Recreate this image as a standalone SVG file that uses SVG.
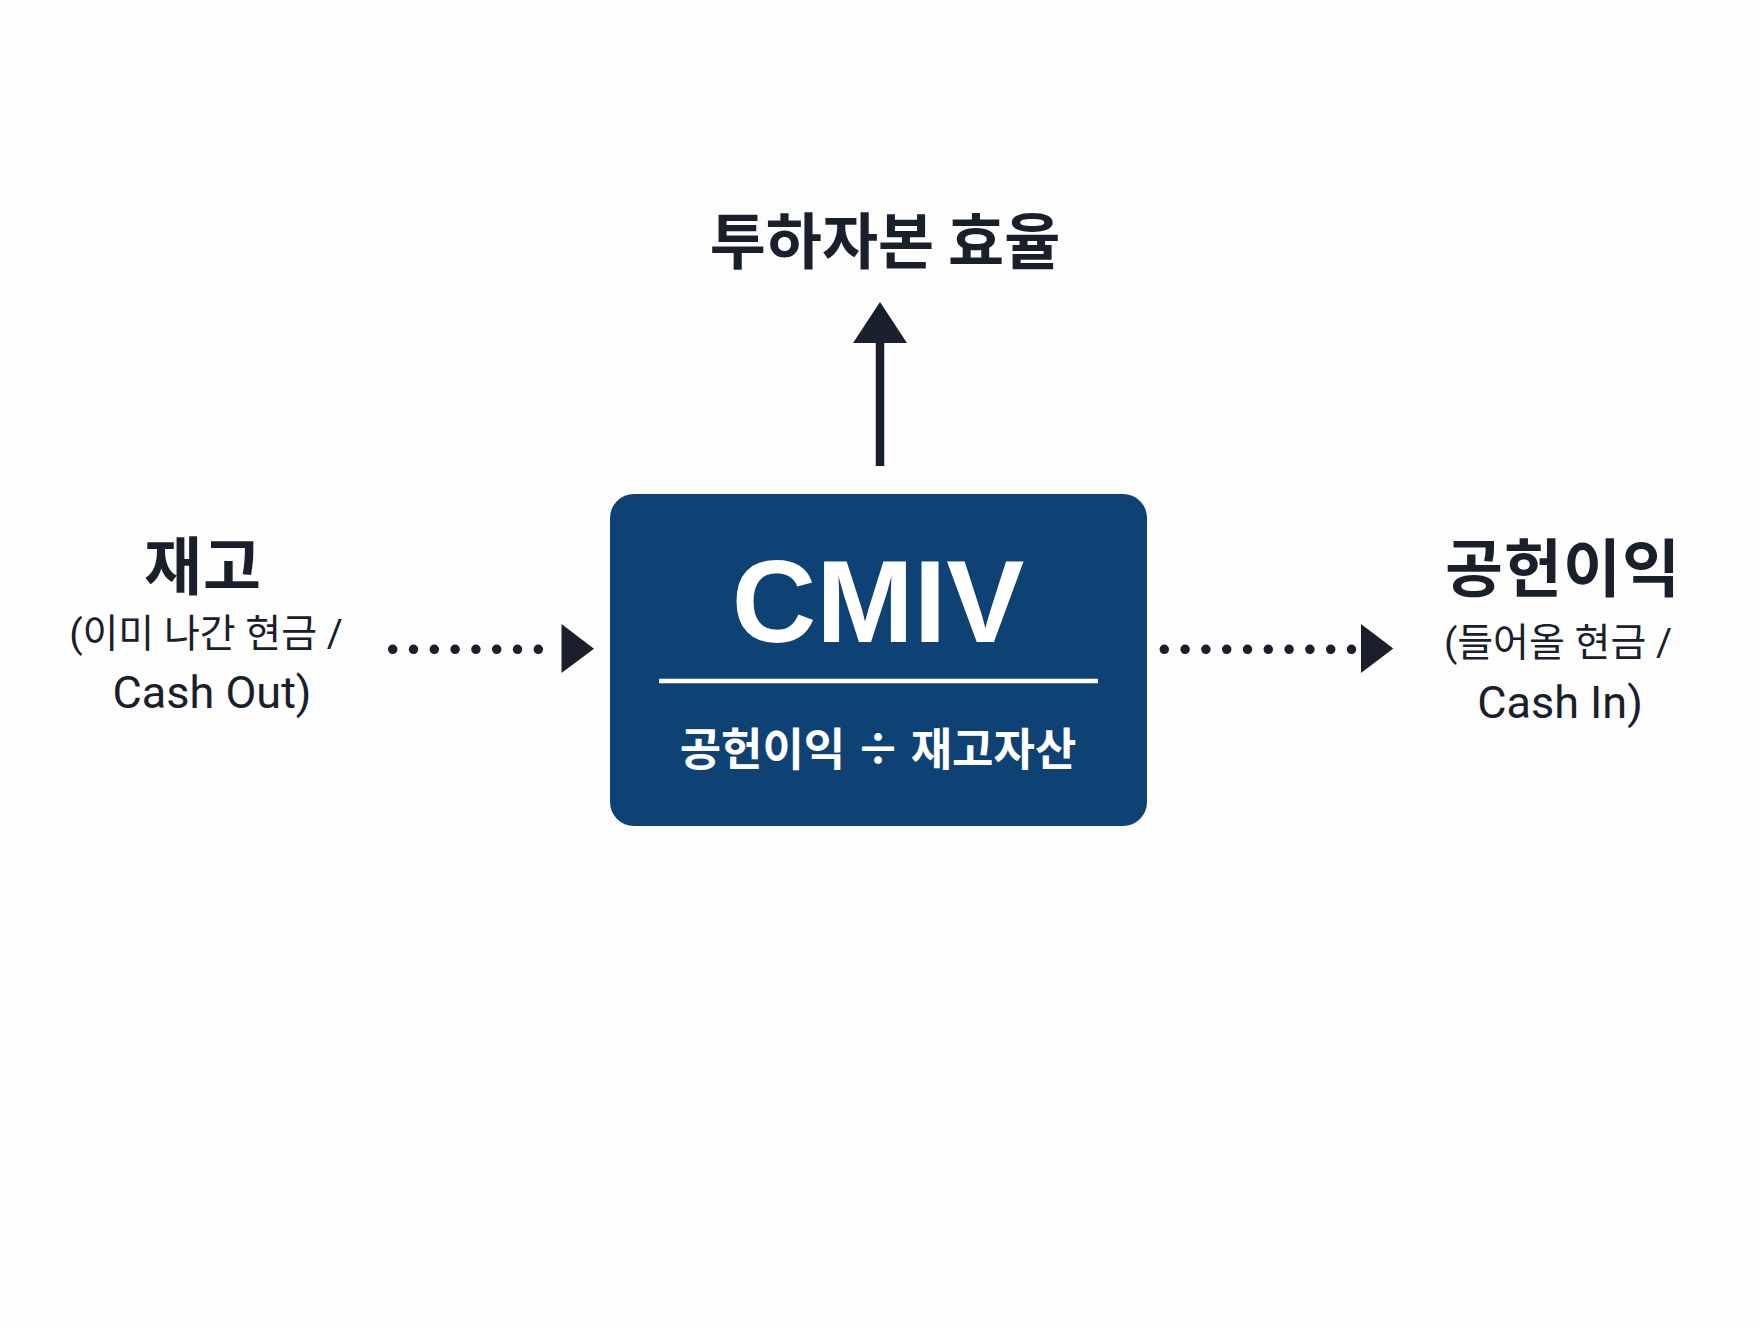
<svg xmlns="http://www.w3.org/2000/svg" width="1760" height="1328" viewBox="0 0 1760 1328">
  <style>
    .ink { fill: #19202b; }
    .head { font-family: "Noto Sans CJK KR", "Noto Sans", sans-serif; font-weight: 700; fill: #19202b; text-anchor: middle; }
    .sub { font-family: Roboto, "Noto Sans CJK KR", sans-serif; font-weight: 400; fill: #19202b; text-anchor: middle; font-size: 39px; }
    .cash { font-family: Roboto, "Liberation Sans", sans-serif; font-weight: 400; fill: #19202b; text-anchor: middle; font-size: 45px; }
    .dots { stroke: #19202b; stroke-width: 9.5; stroke-linecap: round; stroke-dasharray: 0 20.8; fill: none; }
    .shaft { stroke: #19202b; stroke-width: 8.5; fill: none; }
  </style>
  <rect x="0" y="0" width="1760" height="1328" fill="#fdfdfd"/>

  <g id="connectors">
    <line class="shaft" x1="880" y1="466" x2="880" y2="340"/>
    <polygon class="ink" points="880,302 907,343 853,343"/>
    <line class="dots" x1="392.7" y1="649.3" x2="559.1" y2="649.3"/>
    <polygon class="ink" points="561.5,624 594,648.7 561.5,673"/>
    <line class="dots" x1="1164.3" y1="649.3" x2="1351.5" y2="649.3"/>
    <polygon class="ink" points="1361,624 1393.3,648.5 1361,673"/>
  </g>

  <g id="node-top">
    <text class="head" x="885" y="264" font-size="61">투하자본 효율</text>
  </g>

  <g id="node-cmiv">
    <rect x="610" y="494" width="537" height="332" rx="24" ry="24" fill="#0e4174"/>
    <text x="878" y="642" font-family="'Liberation Sans', Arial, sans-serif" font-weight="700" font-size="117" fill="#ffffff" text-anchor="middle">CMIV</text>
    <line x1="659" y1="681" x2="1098" y2="681" stroke="#ffffff" stroke-width="4.5"/>
    <text x="878" y="766" font-family="'Noto Sans CJK KR', sans-serif" font-weight="700" font-size="45" fill="#ffffff" text-anchor="middle">공헌이익 ÷ 재고자산</text>
  </g>

  <g id="node-left">
    <text class="head" x="203" y="589" font-size="63" letter-spacing="1">재고</text>
    <text class="sub" x="206" y="647">(이미 나간 현금 /</text>
    <text class="cash" x="212" y="708">Cash Out)</text>
  </g>

  <g id="node-right">
    <text class="head" x="1563" y="591" font-size="63" letter-spacing="1">공헌이익</text>
    <text class="sub" x="1558" y="656">(들어올 현금 /</text>
    <text class="cash" x="1560" y="718">Cash In)</text>
  </g>
</svg>
